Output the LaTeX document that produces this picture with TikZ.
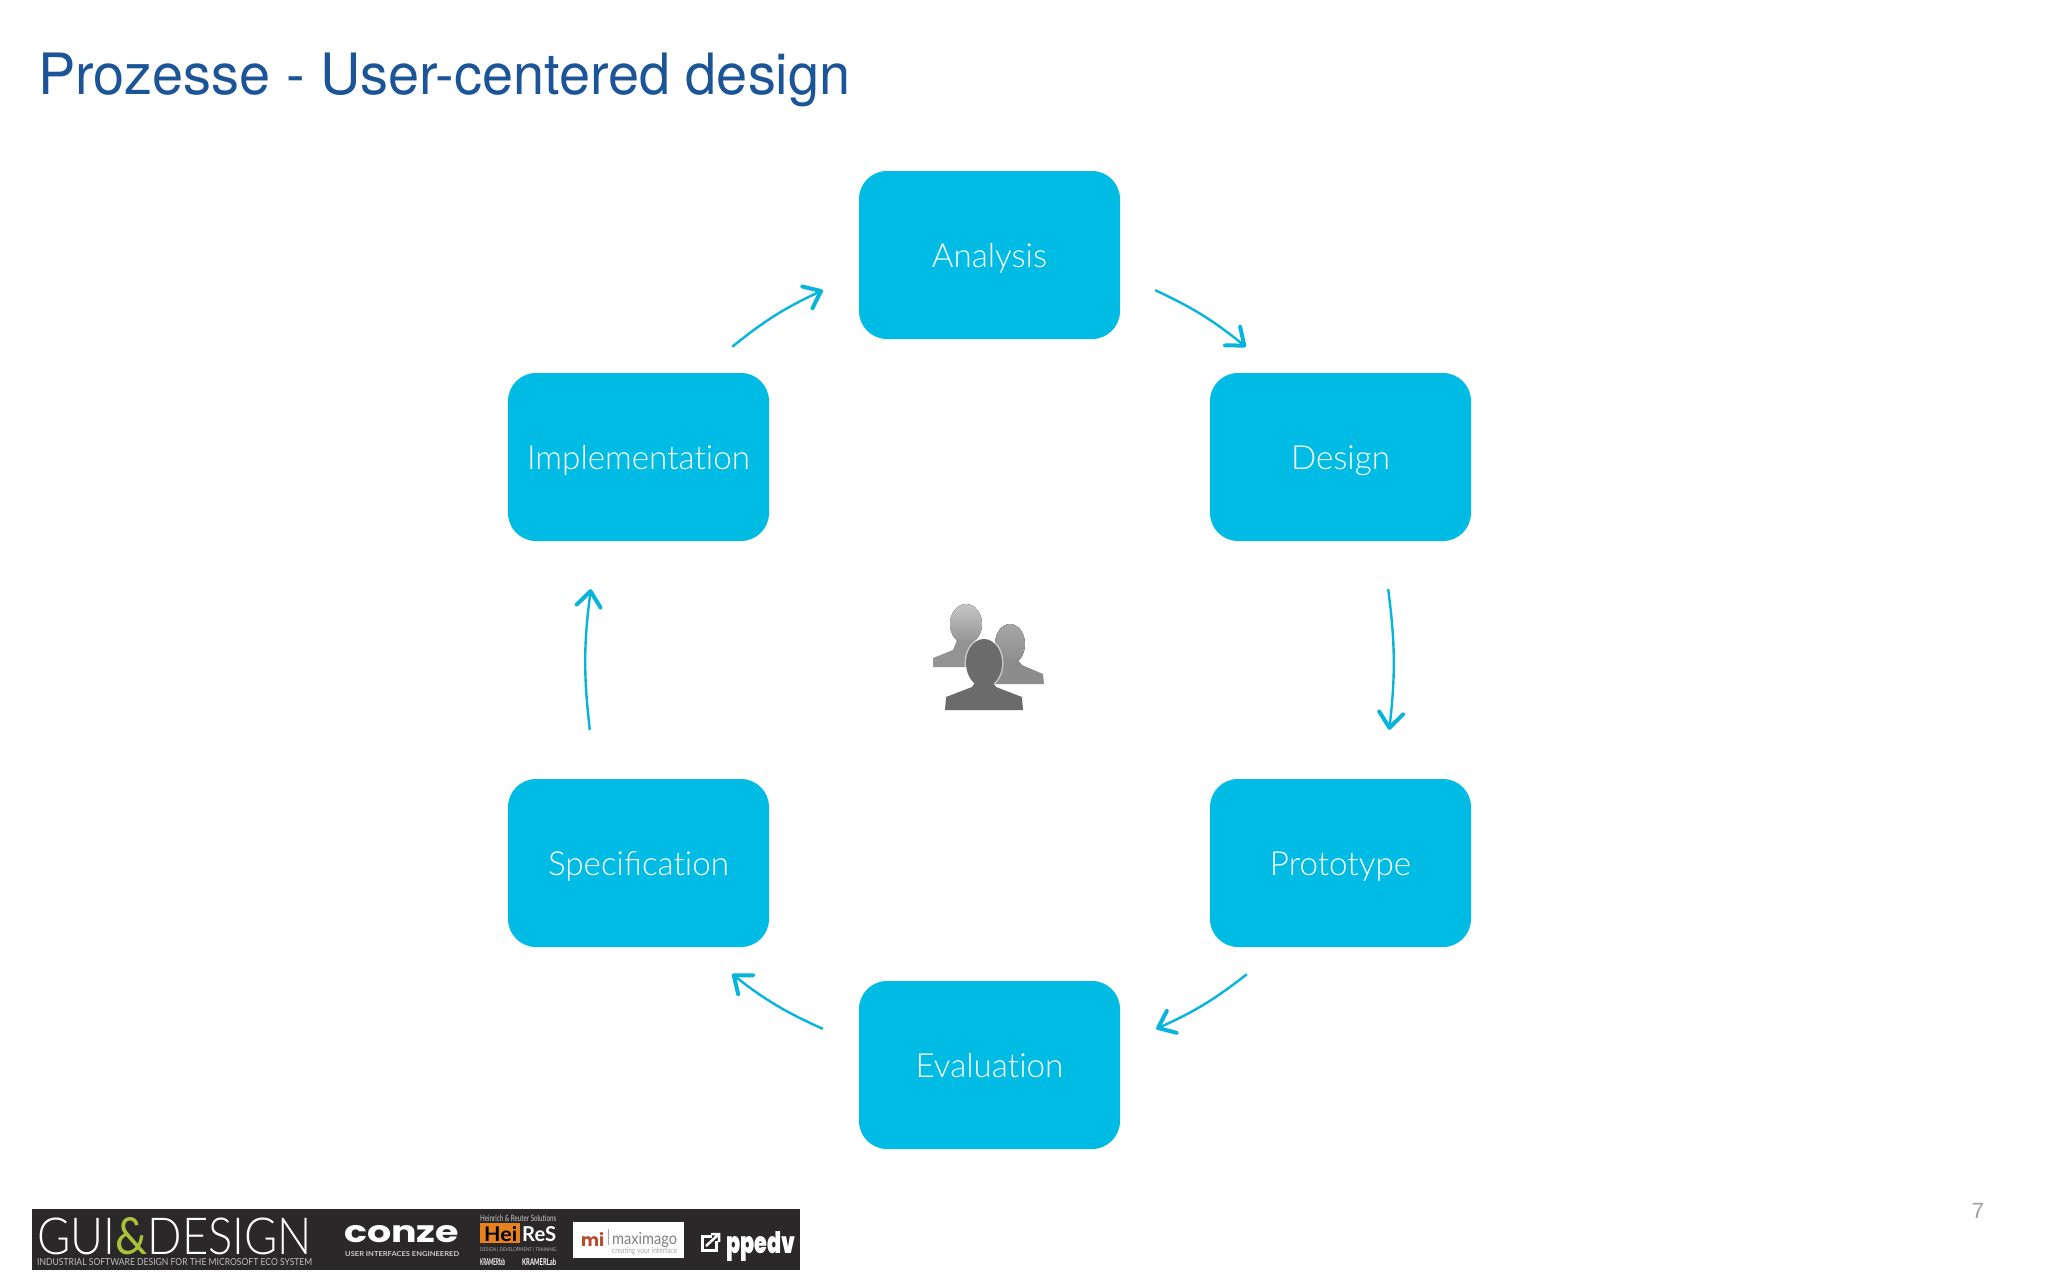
\documentclass[tikz,border=0pt]{standalone}
\usepackage{fontspec}
\usetikzlibrary{arrows.meta}
\setmainfont{Liberation Sans}
\newfontfamily\titlefont{TeX Gyre Heros}
\newfontfamily\boxfont{Lato Light}
\newfontfamily\logofont{Lato}
\newfontfamily\heavyfont{Poppins}
\newfontfamily\blackfont{Poppins Black}
\definecolor{boxblue}{HTML}{00BBE4}
\definecolor{flowblue}{HTML}{06B4DC}
\definecolor{titleblue}{HTML}{1B5597}
\definecolor{logodark}{HTML}{2A2829}
\definecolor{logogreen}{HTML}{A8C23A}
\definecolor{logoorange}{HTML}{E8821E}
\definecolor{logored}{HTML}{B84A2A}
\tikzset{
  stepbox/.style={fill=boxblue, rounded corners=28pt, minimum width=261pt, minimum height=168pt, inner sep=0pt,
    text=white, text height=28pt, text depth=4pt, font=\boxfont\fontsize{33.2}{40}\selectfont},
  flow/.style={draw=flowblue, line width=2.4pt, bend left=7,
    -{Straight Barb[length=15pt, width=24pt, line width=4pt, round]}},
  logotext/.style={inner sep=0pt, text=white},
}
\begin{document}
\begin{tikzpicture}[x=1pt, y=-1pt]
\useasboundingbox (0,0) rectangle (2048,1280);
\node[inner sep=0pt, anchor=base west, text=titleblue, font=\titlefont\fontsize{57}{60}\selectfont] (title) at (38,94) {\scalebox{.98}[1]{Prozesse - User-centered design}};
% process boxes
\node[stepbox] (analysis) at (989.5,255) {Analysis};
\node[stepbox] (design) at (1340.5,457) {Design};
\node[stepbox] (prototype) at (1340.5,863) {Prototype};
\node[stepbox] (evaluation) at (989.5,1065) {Evaluat\kern0pt ion};
\node[stepbox] (specification) at (638.5,863) {Specificat\kern0pt ion};
\node[stepbox] (implementation) at (638.5,457) {Implementat\kern0pt ion};
% arrows
\draw[flow] ([shift={(-37,-26)}]implementation.north east) to ([shift={(-36,-49)}]analysis.south west);
\draw[flow] ([shift={(35,-49)}]analysis.south east) to ([shift={(36,-26)}]design.north west);
\draw[flow] ([shift={(-83,48)}]design.south east) to ([shift={(-82,-49)}]prototype.north east);
\draw[flow] ([shift={(37,27)}]prototype.south west) to ([shift={(36,48)}]evaluation.north east);
\draw[flow] ([shift={(-36,48)}]evaluation.north west) to ([shift={(-37,27)}]specification.south east);
\draw[flow] ([shift={(82,-49)}]specification.north west) to ([shift={(83,48)}]implementation.south west);
% users in the middle
\fill[top color=gray!45!white, bottom color=gray!85!white] (966,624) ellipse (16 and 20);
\fill[gray!85!white] (933,667) -- (933,658) -- (953,650) -- (957,640) -- (975,640) -- (979,650) -- (1000,660) -- (1000,667) -- cycle;
\fill[top color=gray!70!white, bottom color=gray!90!white] (1010,644) ellipse (15 and 20);
\fill[gray!90!white] (983,684) -- (983,674) -- (998,665) -- (1002,660) -- (1018,660) -- (1022,665) -- (1043,674) -- (1044,684) -- cycle;
\fill[white, opacity=.5] (984,663) ellipse (19.5 and 25.5);
\fill[black!58!white] (984,663) ellipse (18 and 24);
\fill[black!58!white] (945,710) -- (946,697) -- (972,687) -- (976,681) -- (992,681) -- (996,687) -- (1022,697) -- (1023,710) -- cycle;
\node[text=gray!75!white, inner sep=0pt, font=\fontsize{22}{24}\selectfont] (pagenumber) at (1978,1211) {7};
% sponsor strip
\fill[logodark] (32,1209) rectangle (800,1270);
\node[logotext, anchor=north west] (guidesign) at (37,1217) {\resizebox{275pt}{37pt}{\boxfont GUI{\logofont\color{logogreen}\&}DESIGN}};
\node[logotext, anchor=north west, text=white!75!black] (guitag) at (37,1258) {\resizebox{275pt}{7pt}{\logofont INDUSTRIAL SOFTWARE DESIGN FOR THE MICROSOFT ECO SYSTEM}};
\node[logotext, anchor=north west] (conze) at (344,1225) {\resizebox{115pt}{17pt}{\heavyfont\bfseries conze}};
\node[logotext, anchor=north west, text=white!80!black] (conzetag) at (345,1251) {\resizebox{114pt}{5pt}{\logofont\bfseries USER INTERFACES ENGINEERED}};
\node[logotext, anchor=north west, text=white!80!black] (heires) at (480,1215) {\resizebox{76pt}{6.5pt}{\logofont Heinrich \& Reuter Solutions}};
\fill[logoorange] (480,1223) rectangle (520,1243);
\node[logotext, anchor=north west, text=black] (hei) at (484,1226) {\resizebox{33pt}{15pt}{\logofont\bfseries Hei}};
\node[logotext, anchor=north west] (res) at (522,1226) {\resizebox{34pt}{15pt}{\logofont\bfseries ReS}};
\node[logotext, anchor=north west, text=white!70!black] (heitag) at (480,1247) {\resizebox{76pt}{4pt}{\logofont DESIGN | DEVELOPMENT | TRAINING}};
\node[logotext, anchor=north west] (kramerfab) at (480,1258) {\resizebox{25pt}{7pt}{\logofont\bfseries KRAMERfab}};
\node[logotext, anchor=north west] (kramerlab) at (522,1258) {\resizebox{34pt}{7pt}{\logofont\bfseries KRAMERLab}};
\fill[white] (573,1222) rectangle (684,1258);
\node[logotext, anchor=north west, text=logored] (mi) at (581,1232) {\resizebox{23pt}{14pt}{\heavyfont\bfseries mi}};
\fill[gray!70!white] (607.5,1229) rectangle (608.5,1245);
\node[logotext, anchor=north west, text=gray] (maximago) at (612,1232) {\resizebox{65pt}{12pt}{\logofont maximago}};
\node[logotext, anchor=north west, text=gray!70!white] (maxtag) at (612,1247) {\resizebox{65pt}{6pt}{\logofont creating your interface}};
\draw[white, line width=3pt] (712,1236) -- (702,1236) -- (702,1250) -- (716,1250) -- (716,1241);
\draw[white, line width=2.5pt] (706,1246) -- (719,1234) (711,1234) -- (719,1234) -- (719,1242);
\node[logotext, anchor=north west] (ppedv) at (726,1231) {\resizebox{69pt}{22pt}{\blackfont ppedv}};
\end{tikzpicture}
\end{document}
